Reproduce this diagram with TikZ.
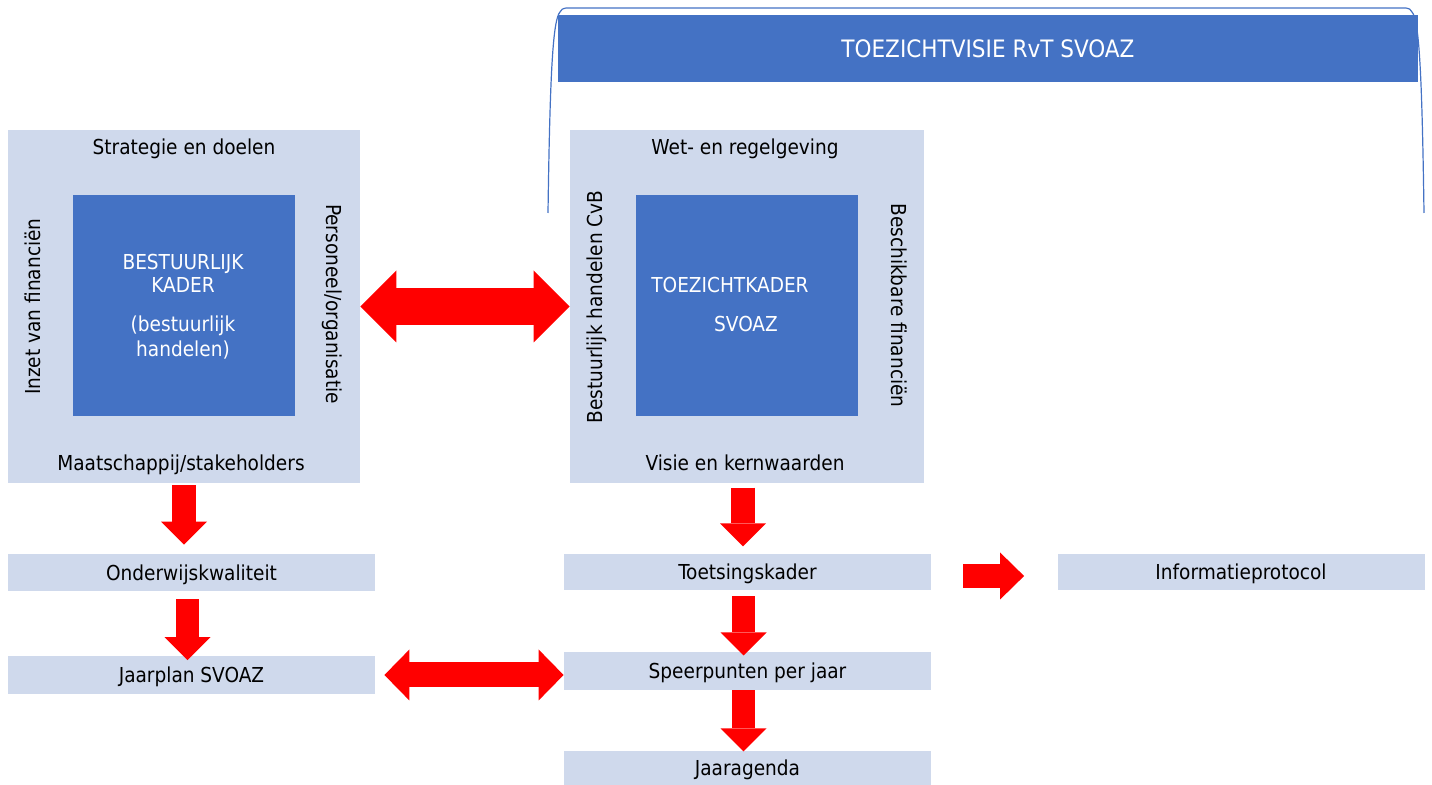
\documentclass[tikz,border=0pt]{standalone}
\usepackage{fontspec}
\setmainfont{DejaVu Sans Condensed}
\usetikzlibrary{arrows.meta}

\definecolor{svoazblauw}{HTML}{4472C4}
\definecolor{svoazlicht}{HTML}{CFD9EC}
\definecolor{svoazrood}{HTML}{FF0000}

\tikzset{
  vlak/.style={fill=svoazlicht, inner sep=0pt, minimum height=176.5pt},
  kern/.style={fill=svoazblauw, inner sep=0pt, minimum width=111pt, minimum height=110.75pt},
  balk/.style={fill=svoazlicht, inner sep=0pt, minimum width=183.5pt, text height=7.5pt, text depth=0pt},
  opschrift/.style={inner sep=0pt, anchor=base},
  pijl/.style={svoazrood, line width=11.75pt, -{Triangle[length=11.5pt, width=23pt, line width=0pt]}},
  breedpijl/.style={svoazrood, line width=18.7pt,
    {Triangle[length=18pt, width=36pt, line width=0pt]}-{Triangle[length=18pt, width=36pt, line width=0pt]}},
  smalpijl/.style={svoazrood, line width=12.5pt,
    {Triangle[length=12.5pt, width=25.5pt, line width=0pt]}-{Triangle[length=12.5pt, width=25.5pt, line width=0pt]}}
}

\begin{document}
\begin{tikzpicture}[x=0.5pt, y=-0.5pt, font=\fontsize{10.3}{12.4}\selectfont]
\useasboundingbox (0,0) rectangle (1432,785);

% haak boven de toezichtvisie
\draw[svoazblauw, line width=0.6pt] (548,213) .. controls (550,70) and (553,20) .. (560,12)
  .. controls (562,9) .. (566,8) -- (1406,8) .. controls (1410,9) .. (1412,12)
  .. controls (1419,20) and (1422,70) .. (1424,213);
\node[fill=svoazblauw, inner sep=0pt, minimum width=430pt, minimum height=33.5pt,
  text=white, text height=8.8pt, text depth=0pt, font=\fontsize{12}{14}\selectfont]
  (visie) at (988,48.5) {TOEZICHTVISIE RvT SVOAZ};

% twee kaders
\node[vlak, minimum width=176pt] (bestuur) at (184,306.5) {};
\node[kern] (bestuurkern) at (184,305.75) {};
\node[vlak, minimum width=177pt] (toezicht) at (747,306.5) {};
\node[kern] (toezichtkern) at (747,305.75) {};

% teksten rond de kaders
\node[opschrift] (strategie) at (184,155) {Strategie en doelen};
\node[opschrift] (maatschappij) at (181,470.7) {Maatschappij/stakeholders};
\node[opschrift, rotate=90] (inzet) at (40.7,306.7) {Inzet van financiën};
\node[opschrift, rotate=-90] (personeel) at (326,304) {Personeel/organisatie};
\node[opschrift] (wet) at (745,155) {Wet- en regelgeving};
\node[opschrift] (kernwaarden) at (745,470.7) {Visie en kernwaarden};
\node[opschrift, rotate=90] (handelen) at (602.7,307) {Bestuurlijk handelen CvB};
\node[opschrift, rotate=-90] (financien) at (891.7,305.5) {Beschikbare financiën};

% teksten in de kernen
\foreach \name/\x/\y/\txt in {bk1/183/270/BESTUURLIJK, bk2/183/292.7/KADER,
    bk3/183/331.7/(bestuurlijk, bk4/183/356.7/handelen),
    tk1/730/292.7/TOEZICHTKADER, tk2/746/331.7/SVOAZ} {
  \node[opschrift, text=white] (\name) at (\x,\y) {\txt};
}

% balken onder de kaders
\foreach \name/\cx/\cy/\h/\txt in {onderwijs/191.5/572.75/18.75/Onderwijskwaliteit,
    jaarplan/191.5/675/19/Jaarplan SVOAZ,
    toetsing/747.5/572/18/Toetsingskader,
    speerpunten/747.5/671.15/18.85/Speerpunten per jaar,
    jaaragenda/747.5/767.85/17.15/Jaaragenda,
    informatie/1241/572/18/Informatieprotocol} {
  \node[balk, minimum height=\h pt] (\name) at (\cx,\cy) {\txt};
}

% pijlen
\coordinate (o2) at ([xshift=-2pt]onderwijs.south);
\coordinate (t1) at ([xshift=-2pt]toezicht.south);
\coordinate (t2) at ([xshift=-2pt]toetsing.south);
\coordinate (t3) at ([xshift=-2pt]speerpunten.south);
\coordinate (t4) at ([yshift=-2pt]toetsing.east);

\draw[breedpijl] (bestuur.east) -- (toezicht.west);
\draw[smalpijl, shorten <=4.5pt] (jaarplan.east) -- (jaarplan.east -| speerpunten.west);
\draw[pijl, shorten <=1pt, shorten >=4.5pt] (bestuur.south) -- (bestuur.south |- onderwijs.north);
\draw[pijl, shorten <=3.6pt, shorten >=-2.3pt] (o2) -- (o2 |- jaarplan.north);
\draw[pijl, shorten <=2.1pt, shorten >=3.6pt] (t1) -- (t1 |- toetsing.north);
\draw[pijl, shorten <=3pt, shorten >=-1.8pt] (t2) -- (t2 |- speerpunten.north);
\draw[pijl, shorten >=-0.5pt] (t3) -- (t3 |- jaaragenda.north);
\draw[pijl, line width=12pt, -{Triangle[length=12pt, width=23.5pt, line width=0pt]},
  shorten <=16pt, shorten >=16.5pt] (t4) -- (t4 -| informatie.west);

\end{tikzpicture}
\end{document}
